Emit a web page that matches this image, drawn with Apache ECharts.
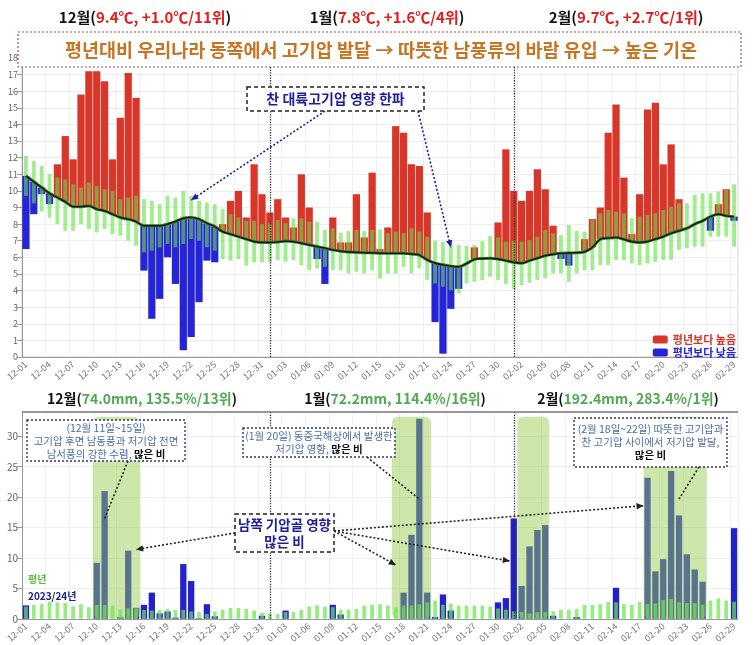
<!DOCTYPE html>
<html><head><meta charset="utf-8">
<script src="https://cdn.jsdelivr.net/npm/echarts/dist/echarts.min.js"></script>
<style>html,body{margin:0;padding:0;background:#fff}#c{width:755px;height:645px}</style>
</head><body><div id="c"></div>
<script>
// ---------- DATA ----------
const decDays = ['12-01','12-02','12-03','12-04','12-05','12-06','12-07','12-08','12-09','12-10','12-11','12-12','12-13','12-14','12-15','12-16','12-17','12-18','12-19','12-20','12-21','12-22','12-23','12-24','12-25','12-26','12-27','12-28','12-29','12-30','12-31'];
const janDays = ['01-01','01-02','01-03','01-04','01-05','01-06','01-07','01-08','01-09','01-10','01-11','01-12','01-13','01-14','01-15','01-16','01-17','01-18','01-19','01-20','01-21','01-22','01-23','01-24','01-25','01-26','01-27','01-28','01-29','01-30','01-31'];
const febDays = ['02-01','02-02','02-03','02-04','02-05','02-06','02-07','02-08','02-09','02-10','02-11','02-12','02-13','02-14','02-15','02-16','02-17','02-18','02-19','02-20','02-21','02-22','02-23','02-24','02-25','02-26','02-27','02-28','02-29'];
const categories = decDays.concat(janDays, febDays);

// daily mean temperature 2023/24 (°C)
const tempActual = [6.5,8.6,9.8,9.2,11.6,13.3,11.9,15.8,17.2,17.2,16.6,11.9,14.4,17.1,15.6,5.2,2.3,3.5,6.0,4.4,0.4,1.2,3.3,5.8,5.7,8.0,9.4,10.0,8.4,11.6,9.8,
  8.7,9.5,8.4,7.8,11.0,9.0,5.9,4.4,8.4,6.9,6.9,9.8,7.2,11.1,6.5,7.8,13.9,13.5,11.6,11.5,8.7,2.1,0.2,2.9,4.1,5.6,6.6,5.95,5.96,8.1,12.5,
  10.0,9.4,10.0,11.3,10.1,7.9,5.9,5.5,6.3,7.1,8.3,9.0,13.5,15.2,10.8,7.4,9.8,14.9,15.3,11.6,12.8,9.5,7.8,8.0,8.2,7.6,9.2,10.1,8.2];
// normal (climatological) daily mean temperature
const tempNormal = [10.9,10.55,10.2,9.85,9.6,9.35,9.05,9.05,9.1,8.9,8.8,8.6,8.4,8.3,8.15,7.9,7.9,7.9,8.0,8.15,8.35,8.4,8.3,8.05,7.85,7.55,7.4,7.25,7.1,6.95,6.9,
  6.9,6.92,6.98,6.95,6.85,6.75,6.65,6.55,6.45,6.37,6.32,6.3,6.28,6.27,6.25,6.24,6.24,6.24,6.2,6.14,5.85,5.65,5.55,5.47,5.43,5.62,5.88,5.93,5.94,5.9,5.8,
  5.7,5.65,5.8,5.95,6.1,6.18,6.24,6.26,6.28,6.33,6.6,7.1,7.16,7.2,7.08,6.95,6.9,6.95,7.1,7.25,7.45,7.6,7.75,8.0,8.2,8.45,8.6,8.5,8.45];
// normal range (lower / upper)
const rangeLow = [9.7,9.25,8.75,8.4,8.0,7.6,7.6,8.0,7.7,7.5,7.7,7.4,7.3,7.0,6.7,6.3,6.4,6.6,6.8,6.6,6.8,7.1,7.0,6.6,6.4,5.9,5.8,5.9,5.5,5.7,5.7,
  5.73,5.83,5.73,5.84,5.53,5.23,5.33,5.43,5.23,5.23,5.03,5.13,5.03,5.23,4.73,5.03,5.03,5.43,5.03,5.33,4.63,4.43,4.23,4.02,3.82,4.43,4.53,4.63,4.83,4.63,4.4,
  4.1,4.33,4.47,4.63,4.73,5.03,5.03,4.53,5.03,5.23,5.23,5.53,5.53,5.84,5.84,5.63,5.53,5.63,5.73,5.84,5.84,6.44,6.54,6.64,6.64,7.24,7.24,7.24,6.64];
const rangeHigh = [12.1,11.8,11.5,11.0,10.8,10.7,10.4,10.2,10.5,10.3,10.1,10.0,9.5,9.6,9.7,9.5,9.4,9.2,9.7,9.6,10.0,9.7,9.4,9.3,9.2,8.9,8.6,8.4,8.2,8.2,8.0,
  8.05,8.25,8.05,8.35,8.35,8.15,8.15,7.65,7.75,7.48,7.58,7.65,7.58,7.65,7.69,7.45,7.55,7.45,7.75,7.55,7.24,7.0,6.94,6.88,6.74,6.68,6.74,6.98,7.28,7.2,6.95,
  7.0,6.94,7.04,7.24,7.65,7.45,7.34,7.95,7.6,7.55,8.25,8.65,8.85,8.75,8.65,8.35,8.45,8.55,8.65,8.85,9.05,9.26,9.26,9.76,9.86,9.86,9.96,10.06,10.4];

// daily precipitation 2023/24 (mm)
const precipActual = [2.2,0,0,0,0,0,0,0,0,9.2,21.0,0,0.3,11.2,1.8,2.3,4.3,0.9,1.2,0.2,9.0,6.2,0.1,2.4,0.4,0,0,0,0,0,0.5,
  0,0,1.35,0,0,0,0,0,2.3,0.7,0,0,0,0,0,0,0,4.3,13.8,32.9,4.3,0.3,4.0,1.35,0,0,0,0,0,2.7,3.4,
  16.5,5.4,11.9,14.6,15.4,0.5,0,0,0.3,0,0,0,0,5.1,0,0,0,23.2,7.8,9.8,24.3,17.0,10.6,8.1,6.1,0,0,0,14.9];
// normal daily precipitation (mm)
const precipNormal = [2.0,2.3,2.4,2.8,2.7,2.6,2.05,2.4,1.9,2.27,2.27,2.16,1.6,1.7,1.7,1.46,1.35,1.46,1.6,1.5,1.46,1.2,1.1,0.8,1.2,1.5,1.78,1.78,1.6,1.35,1.0,
  0.8,0.8,1.1,1.1,1.5,2.05,2.2,2.0,1.9,1.5,1.5,1.6,2.16,2.3,2.4,2.16,1.9,2.16,2.16,2.4,2.7,3.0,2.3,2.5,2.16,2.16,2.16,2.16,2.0,1.7,1.5,
  1.2,1.1,0.9,1.1,1.1,1.24,1.5,1.5,1.6,2.3,2.27,2.4,2.8,2.7,2.4,2.3,2.8,2.4,2.5,3.1,3.24,2.7,2.6,2.6,2.3,3.0,3.35,3.0,2.8];
// heavy-rain periods (shaded)
const rainPeriods = [['12-10','12-15'],['01-17','01-21'],['02-02','02-05'],['02-18','02-25']];
const monthDividers = ['01-01','02-01'];

// ---------- CHART ----------
const FONT = "'Noto Sans CJK KR','Noto Sans',sans-serif";
const chart = echarts.init(document.getElementById('c'), null, {renderer:'canvas'});
const highData = [], lowData = [], rangeData = [], normalPrecipData = [];
categories.forEach((c, i) => {
  if (tempActual[i] >= tempNormal[i]) highData.push([i, tempNormal[i], tempActual[i]]);
  else lowData.push([i, tempNormal[i], tempActual[i]]);
  rangeData.push([i, rangeLow[i], rangeHigh[i]]);
  normalPrecipData.push([i, 0, precipNormal[i]]);
});
const shadeData = rainPeriods.map(p => [categories.indexOf(p[0]), categories.indexOf(p[1])]);

function floatBar(ratio) {
  return function (params, api) {
    const x = api.value(0);
    const a = api.coord([x, api.value(1)]);
    const b = api.coord([x, api.value(2)]);
    const w = api.size([1, 0])[0] * ratio;
    return {type:'rect', shape:{x:a[0]-w/2, y:Math.min(a[1],b[1]), width:w, height:Math.abs(a[1]-b[1])}, style: api.style()};
  };
}
function shadeItem(params, api) {
  const s = api.value(0), e = api.value(1);
  const p1 = api.coord([s, 33.2]);
  const p2 = api.coord([e, 0]);
  const w = api.size([1, 0])[0];
  return {type:'rect', shape:{x:p1[0]-w*0.5, y:p1[1], width:p2[0]-p1[0]+w, height:p2[1]-p1[1], r:6}, style: api.style()};
}

const xAxisBase = (gi) => ({
  type:'category', gridIndex:gi, data:categories, boundaryGap:true,
  axisLine:{lineStyle:{color:'#999'}},
  axisTick:{interval:2, alignWithLabel:true, lineStyle:{color:'#999'}},
  axisLabel:{interval:2, rotate:40, fontSize:9, color:'#777', fontFamily:FONT, margin:6},
  splitLine:{show:true, interval:2, lineStyle:{color:'#f0f0f0'}}
});
const markLines = {
  silent:true, symbol:'none', label:{show:false},
  lineStyle:{type:'dotted', color:'#333', width:1.3},
  data: monthDividers.map(d => ({xAxis:d}))
};

chart.setOption({
  animation:false,
  textStyle:{fontFamily:FONT},
  grid:[
    {left:22, right:17, top:58, bottom:288, show:true, borderColor:'#ccc', borderWidth:1},
    {left:22, right:17, top:412, bottom:23}
  ],
  xAxis:[xAxisBase(0), xAxisBase(1)],
  yAxis:[
    {type:'value', gridIndex:0, min:0, max:18, interval:1,
     axisLine:{show:true, lineStyle:{color:'#999'}}, axisTick:{show:true, lineStyle:{color:'#999'}},
     axisLabel:{fontSize:9, color:'#666', margin:4}, splitLine:{lineStyle:{color:'#eee'}}},
    {type:'value', gridIndex:1, min:0, max:34, interval:5,
     axisLine:{show:true, lineStyle:{color:'#999'}}, axisTick:{show:true, lineStyle:{color:'#999'}},
     axisLabel:{fontSize:10, color:'#666', margin:4, showMaxLabel:false}, splitLine:{lineStyle:{color:'#eee'}}}
  ],
  legend:{
    orient:'vertical', right:14, top:329, itemWidth:15, itemHeight:8, itemGap:2,
    textStyle:{fontSize:11, fontWeight:'bold', fontFamily:FONT},
    data:[{name:'평년보다 높음', textStyle:{color:'#D9362A'}}, {name:'평년보다 낮음', textStyle:{color:'#2525D5'}}]
  },
  series:[
    {name:'평년보다 높음', type:'custom', xAxisIndex:0, yAxisIndex:0, renderItem:floatBar(0.92),
     itemStyle:{color:'#D9362A'}, encode:{x:0, y:[1,2]}, data:highData, z:2},
    {name:'평년보다 낮음', type:'custom', xAxisIndex:0, yAxisIndex:0, renderItem:floatBar(0.92),
     itemStyle:{color:'#2525D5'}, encode:{x:0, y:[1,2]}, data:lowData, z:2},
    {name:'평년범위', type:'custom', xAxisIndex:0, yAxisIndex:0, renderItem:floatBar(0.5),
     itemStyle:{color:'rgba(100,225,70,0.6)'}, encode:{x:0, y:[1,2]}, data:rangeData, z:3},
    {name:'평년선외곽', type:'line', xAxisIndex:0, yAxisIndex:0, data:tempNormal, smooth:0.3, symbol:'none',
     lineStyle:{color:'#3c7a2c', width:3}, z:4, markLine:markLines},
    {name:'평년선', type:'line', xAxisIndex:0, yAxisIndex:0, data:tempNormal, smooth:0.3, symbol:'none',
     lineStyle:{color:'#111', width:1.3}, z:5},
    {name:'2023/24년', type:'bar', xAxisIndex:1, yAxisIndex:1, data:precipActual, barWidth:'80%',
     itemStyle:{color:'#2222C8'}, z:2, markLine:markLines},
    {name:'많은비기간', type:'custom', xAxisIndex:1, yAxisIndex:1, renderItem:shadeItem,
     itemStyle:{color:'rgba(150,205,80,0.48)'}, encode:{x:[0,1]}, data:shadeData, z:3, silent:true},
    {name:'평년', type:'custom', xAxisIndex:1, yAxisIndex:1, renderItem:floatBar(0.48),
     itemStyle:{color:'rgba(110,228,80,0.72)'}, encode:{x:0, y:[1,2]}, data:normalPrecipData, z:4}
  ]
});

// ---------- ANNOTATIONS ----------
const px0 = (d) => chart.convertToPixel({gridIndex:0}, d);
const px1 = (d) => chart.convertToPixel({gridIndex:1}, d);
function txt(x, y, text, opt) {
  return {type:'text', x:x, y:y, z:120, style:Object.assign({text:text, fontFamily:FONT, align:'center', textAlign:'center', verticalAlign:'middle', textVerticalAlign:'middle'}, opt||{})};
}
function box(x, y, w, h, stroke, dash, lw) {
  return {type:'rect', z:110, shape:{x:x, y:y, width:w, height:h}, style:{fill:'#fff', stroke:stroke, lineDash:dash, lineWidth:lw}};
}
function arrow(p1, p2, color, dash, head) {
  const els = [{type:'line', z:105, shape:{x1:p1[0], y1:p1[1], x2:p2[0], y2:p2[1]}, style:{stroke:color, lineWidth:1.6, lineDash:dash}}];
  if (head) {
    const ang = Math.atan2(p2[1]-p1[1], p2[0]-p1[0]);
    const L = 7, W = 3.2;
    const bx = p2[0]-L*Math.cos(ang), by = p2[1]-L*Math.sin(ang);
    els.push({type:'polygon', z:106, shape:{points:[[p2[0],p2[1]],[bx+W*Math.sin(ang), by-W*Math.cos(ang)],[bx-W*Math.sin(ang), by+W*Math.cos(ang)]]}, style:{fill:color}});
  }
  return els;
}
const titleRich = (col, fs) => ({k:{fill:'#111', fontSize:fs, fontWeight:'bold', fontFamily:FONT}, v:{fill:col, fontSize:fs, fontWeight:'bold', fontFamily:FONT}});
const red = '#E0201E', green = '#4FAA50';
const steel = '#4A6EA8';
const g = [];
// top month titles
g.push(txt(145, 17, '{k|12월(}{v|9.4℃, +1.0℃/11위}{k|)}', {rich:titleRich(red, 15)}));
g.push(txt(387, 17, '{k|1월(}{v|7.8℃, +1.6℃/4위}{k|)}', {rich:titleRich(red, 15)}));
g.push(txt(626, 17, '{k|2월(}{v|9.7℃, +2.7℃/1위}{k|)}', {rich:titleRich(red, 15)}));
// headline box
g.push(box(18, 32, 723, 35, '#A0524A', [2,2], 1.2));
g.push(txt(381, 49.5, '평년대비 우리나라 동쪽에서 고기압 발달 → 따뜻한 남풍류의 바람 유입 → 높은 기온', {fontSize:18.5, fontWeight:'bold', fill:'#C87422'}));
// cold-wave box + arrows
g.push(box(247, 87, 177, 24, '#222', [4,3], 1.5));
g.push(txt(335.5, 99, '찬 대륙고기압 영향 한파', {fontSize:14, fontWeight:'bold', fill:'#1E1E9C'}));
arrow([325, 111], px0(['12-22', 9.45]), '#1E1E9C', [2,2], true).forEach(e => g.push(e));
arrow([418, 111], px0(['01-24', 6.6]), '#1E1E9C', [2,2], true).forEach(e => g.push(e));
// bottom month titles
g.push(txt(142, 399, '{k|12월(}{v|74.0mm, 135.5%/13위}{k|)}', {rich:titleRich(green, 14)}));
g.push(txt(395, 399, '{k|1월(}{v|72.2mm, 114.4%/16위}{k|)}', {rich:titleRich(green, 14)}));
g.push(txt(628, 399, '{k|2월(}{v|192.4mm, 283.4%/1위}{k|)}', {rich:titleRich(green, 14)}));
// bottom chart top border
g.push({type:'line', z:50, shape:{x1:22, y1:412, x2:738, y2:412}, style:{stroke:'#777', lineWidth:1.5}});
// rain annotation boxes
const noteRich = {s:{fill:steel, fontSize:10.5, fontFamily:FONT, lineHeight:13}, b:{fill:'#111', fontSize:10.5, fontWeight:'bold', fontFamily:FONT, lineHeight:13}};
arrow([128, 461], px1(['12-11', 16.5]), '#222', [2,2], false).forEach(e => g.push(e));
g.push(box(27, 420, 158, 41, '#333366', [2,2], 1.4));
g.push(txt(106, 441, '{s|(12월 11일~15일)}\n{s|고기압 후면 남동풍과 저기압 전면}\n{s|남서풍의 강한 수렴, }{b|많은 비}', {rich:noteRich}));
arrow([367, 457], px1(['01-20', 19.7]), '#222', [2,2], false).forEach(e => g.push(e));
g.push(box(243, 428, 152, 29, '#333366', [2,2], 1.4));
g.push(txt(319, 442.5, '{s|(1월 20일) 동중국해상에서 발생한}\n{s|저기압 영향, }{b|많은 비}', {rich:noteRich}));
arrow([699, 467], px1(['02-22', 19.7]), '#222', [2,2], false).forEach(e => g.push(e));
g.push(box(574, 418, 153, 49, '#333366', [2,2], 1.4));
g.push(txt(650.5, 442.5, '{s|(2월 18일~22일) 따뜻한 고기압과}\n{s|찬 고기압 사이에서 저기압 발달,}\n{b|많은 비}', {rich:noteRich}));
// trough box + arrows
arrow([235, 533], px1(['12-15', 11.4]), '#222', [2,2], true).forEach(e => g.push(e));
arrow([334, 531], px1(['01-17', 8.85]), '#222', [2,2], true).forEach(e => g.push(e));
arrow([334, 531], [px1(['02-01', 9.5])[0]-4, px1(['02-01', 9.5])[1]], '#222', [2,2], true).forEach(e => g.push(e));
arrow([334, 531], [px1(['02-18', 18.6])[0]-4, px1(['02-18', 18.6])[1]], '#222', [2,2], true).forEach(e => g.push(e));
g.push(box(235, 514, 99, 38, '#222', [4,3], 1.5));
g.push(txt(284.5, 533, '남쪽 기압골 영향\n많은 비', {fontSize:13.5, fontWeight:'bold', fill:'#1E1E9C', lineHeight:17}));
// bottom-left legend
g.push(txt(28, 579, '평년', {align:'left', textAlign:'left', fontSize:10, fontWeight:'bold', fill:'#5DBB3F'}));
g.push(txt(28, 596, '2023/24년', {align:'left', textAlign:'left', fontSize:10, fontWeight:'bold', fill:'#22228B'}));

chart.setOption({graphic:{elements:g}});
</script></body></html>
